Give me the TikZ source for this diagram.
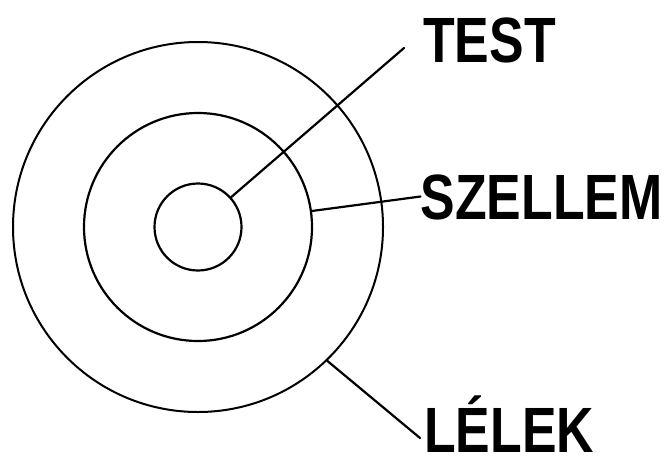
\documentclass[tikz,border=0pt]{standalone}
\usepackage{fontspec}
\newfontfamily\labelfont[FakeStretch=0.81]{Liberation Sans}
\usetikzlibrary{positioning}
\tikzset{
  ring/.style={draw=black,circle,line width=2.2pt,inner sep=0pt},
  tag/.style={font=\labelfont\bfseries\fontsize{64}{64}\selectfont,anchor=west,
    inner sep=0pt,text height=46pt,text depth=0pt},
  lead/.style={line width=2.2pt,draw=black,line cap=round},
}
\begin{document}
\begin{tikzpicture}[x=1pt,y=-1pt]
  \useasboundingbox (0,0) rectangle (668,461);
  % the three rings
  \node[ring,line width=2pt,minimum size=370pt] (outer) at (198,227) {};
  \node[ring,minimum size=228pt] (middle) at (198,227) {};
  \node[ring,minimum size=87pt] (inner) at (198,227) {};
  % labels
  \node[tag] (test) at (423,39) {TEST};
  \node[tag] (szellem) at (420.5,196.5) {SZELLEM};
  \node[tag] (lelek) at (424,429) {LÉLEK};
  % leaders
  \draw[lead] (inner.42) -- ([xshift=-19pt,yshift=-9pt]test.west);
  \draw[lead] (middle.8) -- (szellem.west);
  \draw[lead] (outer.-46) -- ([xshift=-4pt,yshift=-9pt]lelek.west);
\end{tikzpicture}
\end{document}
